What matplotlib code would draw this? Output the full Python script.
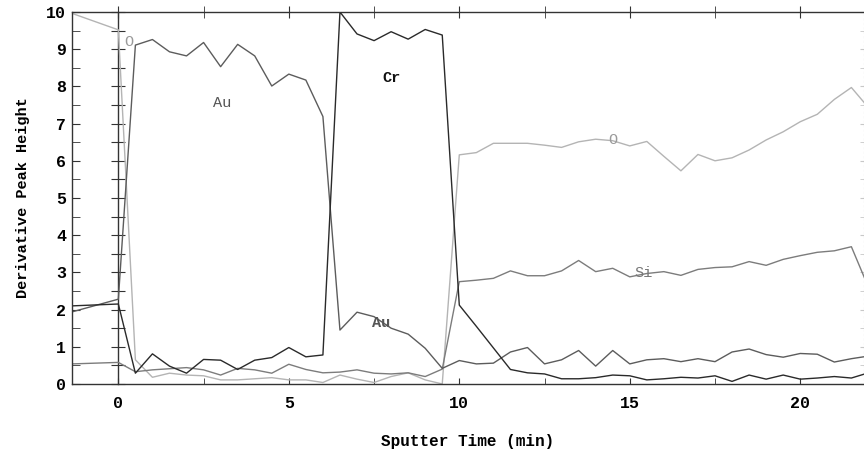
"""Auger depth profile — derivative peak height vs sputter time (O, Au, Cr, Si)."""

import matplotlib
matplotlib.use("Agg")
import matplotlib.pyplot as plt
import numpy as np

# sample times: first point sits on the left frame edge, then every 0.5 min
T_START = [-1.35]
T_STEP = 0.5
T_END = 22.0

O = [9.96,
     9.52, 0.65, 0.18, 0.29, 0.24, 0.22, 0.11, 0.11, 0.14, 0.17,
     0.11, 0.11, 0.04, 0.24, 0.13, 0.04, 0.20, 0.30, 0.11, 0.00,
     6.16, 6.22, 6.47, 6.47, 6.47, 6.42, 6.36, 6.51, 6.58, 6.54,
     6.40, 6.52, 6.12, 5.73, 6.17, 6.00, 6.08, 6.29, 6.56, 6.78,
     7.05, 7.25, 7.65, 7.97, 7.43]

AU = [1.94,
      2.28, 9.11, 9.26, 8.93, 8.82, 9.18, 8.53, 9.13, 8.82, 8.01,
      8.33, 8.17, 7.19, 1.45, 1.93, 1.81, 1.50, 1.34, 0.96, 0.42,
      0.63, 0.54, 0.56, 0.86, 0.98, 0.54, 0.65, 0.90, 0.48, 0.90,
      0.54, 0.65, 0.68, 0.60, 0.68, 0.60, 0.86, 0.94, 0.79, 0.72,
      0.82, 0.80, 0.59, 0.68, 0.75]

CR = [2.10,
      2.15, 0.29, 0.81, 0.48, 0.29, 0.66, 0.64, 0.39, 0.64, 0.71,
      0.98, 0.73, 0.78, 10.0, 9.41, 9.23, 9.47, 9.27, 9.53, 9.38,
      2.12, 1.55, 0.97, 0.39, 0.30, 0.27, 0.14, 0.14, 0.17, 0.24,
      0.22, 0.11, 0.14, 0.18, 0.16, 0.22, 0.07, 0.24, 0.13, 0.24,
      0.13, 0.16, 0.20, 0.16, 0.30]

SI = [0.54,
      0.58, 0.33, 0.38, 0.41, 0.44, 0.38, 0.24, 0.42, 0.38, 0.29,
      0.53, 0.39, 0.30, 0.32, 0.38, 0.29, 0.27, 0.30, 0.20, 0.40,
      2.75, 2.79, 2.84, 3.04, 2.91, 2.91, 3.04, 3.32, 3.02, 3.11,
      2.88, 2.97, 3.02, 2.92, 3.08, 3.13, 3.15, 3.29, 3.19, 3.35,
      3.45, 3.54, 3.58, 3.69, 2.60]

# in-plot element labels: (text, time, height, colour, weight)
LABELS = [
    ("O", 0.32, 9.2, "#9a9a9a", "normal"),
    ("Au", 3.05, 7.55, "#555555", "normal"),
    ("Cr", 8.0, 8.23, "#111111", "bold"),
    ("Au", 7.7, 1.65, "#555555", "bold"),
    ("O", 14.5, 6.56, "#9a9a9a", "normal"),
    ("Si", 15.4, 2.98, "#777777", "normal"),
]

XLIM = (-1.36, 21.87)
YLIM = (0, 10)
MONO = "Liberation Mono"
FRAME = "#333333"


def main() -> None:
    t = np.concatenate([T_START, np.arange(0, T_END + T_STEP / 2, T_STEP)])

    fig = plt.figure(figsize=(8.64, 4.51), dpi=100)
    ax = fig.add_axes([0.0833, 0.1486, 0.9167, 0.8248])

    ax.plot(t, O, color="#b4b4b4", linewidth=1.0)
    ax.plot(t, SI, color="#7c7c7c", linewidth=1.0)
    ax.plot(t, AU, color="#5c5c5c", linewidth=1.0)
    ax.plot(t, CR, color="#2a2a2a", linewidth=1.0)

    for text, x, y, color, weight in LABELS:
        ax.text(x, y, text, color=color, fontsize=11, family=MONO,
                weight=weight, ha="center", va="center")

    ax.set_xlim(*XLIM)
    ax.set_ylim(*YLIM)

    # frame + ticks
    for side in ("left", "bottom", "top"):
        ax.spines[side].set_color(FRAME)
        ax.spines[side].set_linewidth(1.0)
    ax.spines["right"].set_color("#bbbbbb")
    ax.spines["right"].set_linestyle((0, (1, 3)))

    ax.set_xticks([0, 5, 10, 15, 20])
    ax.set_xticks([2.5, 7.5, 12.5, 17.5], minor=True)
    ax.set_yticks(range(0, 11))
    ax.set_yticks(np.arange(0.5, 10, 1.0), minor=True)
    ax.tick_params(axis="y", which="both", direction="in", length=6,
                   color=FRAME, right=True, labelsize=12, pad=4)
    ax.tick_params(axis="x", which="both", direction="in", length=4,
                   color=FRAME, top=True, labelsize=12, pad=9)
    for lbl in ax.get_xticklabels() + ax.get_yticklabels():
        lbl.set_family(MONO)
        lbl.set_weight("bold")

    # right-hand ticks are faint, top ticks cross the frame
    for tick in ax.yaxis.get_major_ticks() + ax.yaxis.get_minor_ticks():
        tick.tick2line.set_markeredgecolor("#c8c8c8")
        tick.tick2line.set_markersize(3)
    for tick in ax.xaxis.get_major_ticks() + ax.xaxis.get_minor_ticks():
        tick.tick2line.set_marker("|")
        tick.tick2line.set_markersize(8)

    # vertical axis line at t = 0 with crossing ticks
    loc = (0 - XLIM[0]) / (XLIM[1] - XLIM[0])
    sec = ax.secondary_yaxis(loc)
    sec.set_yticks(np.arange(0, 10.5, 0.5))
    sec.tick_params(direction="inout", length=10, color=FRAME,
                    labelleft=False, labelright=False)
    sec.spines["left"].set_color(FRAME)
    sec.spines["left"].set_linewidth(1.0)

    ax.set_xlabel("Sputter Time (min)", family=MONO, weight="bold",
                  fontsize=11.5, labelpad=16)
    ax.set_ylabel("Derivative Peak Height", family=MONO, weight="bold",
                  fontsize=11, labelpad=12)

    fig.savefig("out.png", dpi=100)
    plt.close(fig)


if __name__ == "__main__":
    main()
